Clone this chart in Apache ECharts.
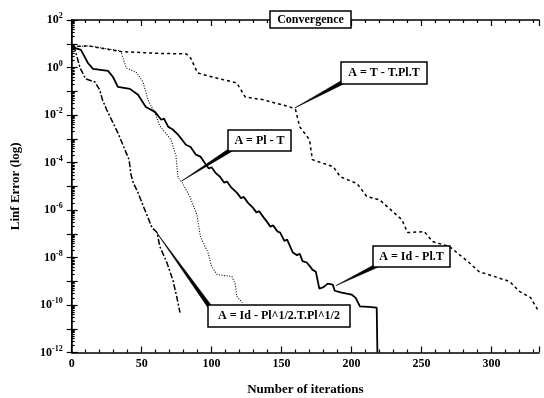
<!DOCTYPE html>
<html><head><meta charset="utf-8">
<script src="https://cdn.jsdelivr.net/npm/echarts@6/dist/echarts.min.js"></script>
<style>html,body{margin:0;padding:0;background:#fff}#c{width:544px;height:398px}</style>
</head><body><div id="c"></div>
<script>
// ---- data (iterations, log10 of Linf error) ----
const titleText = 'Convergence';
const xName = 'Number of iterations';
const yName = 'Linf Error (log)';
const xTicks = [0, 50, 100, 150, 200, 250, 300];
const yTickExps = [-12, -10, -8, -6, -4, -2, 0, 2];

const nameTPT = 'A = T - T.Pl.T';
const iterTPT = [0, 12, 35, 60, 82, 85, 90, 97, 118, 124, 137, 156, 160, 163, 170, 172, 187, 192, 204, 211, 220, 236, 240, 252, 258, 270, 284, 291, 313, 320, 328, 333];
const logTPT  = [0.88, 0.91, 0.67, 0.60, 0.57, 0.40, -0.23, -0.35, -0.65, -1.24, -1.36, -1.66, -1.78, -2.50, -3.04, -3.88, -4.18, -4.60, -4.89, -5.44, -5.57, -6.41, -6.95, -6.91, -7.33, -7.54, -8.21, -8.59, -9.01, -9.43, -9.69, -10.19];

const nameIdPlT = 'A = Id - Pl.T';
const iterIdPlT = [0, 6.6, 11.6, 15.2, 26, 29.5, 33, 41.6, 47.4, 53, 59.5, 64, 66, 69, 72, 76, 79, 81.6, 85, 88.8, 92, 95, 98, 100, 103, 106, 109, 111, 114, 118, 121, 123, 126, 129.5, 132, 134, 137, 139.5, 142, 144, 147, 149, 152, 154, 158, 161, 163, 165, 168, 170, 172, 174.5, 177, 180, 183, 186.6, 188, 193, 200, 203, 206, 212, 218, 218.5];
const logIdPlT  = [0.87, 0.74, 0.19, -0.06, -0.14, -0.40, -0.82, -0.90, -1.15, -1.66, -1.87, -2.2, -2.15, -2.50, -2.6, -2.83, -3.05, -3.25, -3.35, -3.67, -3.75, -4.01, -4.25, -4.2, -4.45, -4.60, -4.85, -4.8, -5.05, -5.27, -5.5, -5.45, -5.7, -5.90, -6.1, -6.05, -6.3, -6.49, -6.7, -6.65, -6.9, -6.95, -7.3, -7.25, -7.79, -7.9, -7.85, -8.15, -8.21, -8.35, -8.51, -8.6, -9.31, -9.25, -9.1, -9.14, -9.4, -9.48, -9.56, -9.7, -10.06, -10.08, -10.11, -12];

const namePlT = 'A = Pl - T';
const iterPlT = [0, 12, 35, 39, 46, 51, 54.5, 60, 63, 71, 74.5, 76, 79, 84.5, 89.5, 92, 97.4, 100, 104, 114.5, 117, 118, 122];
const logPlT  = [0.87, 0.91, 0.70, -0.02, -0.19, -0.61, -1.36, -1.99, -2.46, -3.04, -3.72, -4.64, -4.85, -5.44, -6.20, -7.12, -7.79, -8.38, -8.72, -8.80, -9.14, -9.64, -9.90];

const nameHalf = 'A = Id - Pl^1/2.T.Pl^1/2';
const iterHalf = [0, 2.4, 6, 10, 16.6, 20, 22, 25, 29.5, 33, 38, 41, 42.4, 44, 47.4, 51.6, 57.4, 61, 63, 68, 72.4, 75, 77.4];
const logHalf  = [0.87, 0.74, -0.02, -0.48, -0.61, -0.94, -1.36, -1.78, -2.33, -2.75, -3.46, -3.88, -4.52, -4.85, -5.27, -5.90, -6.74, -6.95, -7.54, -8.21, -8.97, -9.64, -10.32];

// annotation anchor points on the curves (iteration, log10 error)
const anchorIter = [159.5, 78.6, 189, 60.7];
const anchorLog  = [-1.7, -4.78, -9.18, -6.95];
const annoNames  = [nameTPT, namePlT, nameIdPlT, nameHalf];

// ---- chart ----
const FONT = '"Liberation Serif", "DejaVu Serif", serif';
const pairs = (xs, ls) => xs.map((x, i) => [x, Math.pow(10, ls[i])]);
const chart = echarts.init(document.getElementById('c'), null, {renderer: 'canvas'});

const tickStyle = {color: '#000', width: 1.2};
const option = {
  animation: false,
  backgroundColor: '#fff',
  grid: {left: 71.7, right: 5, top: 20, bottom: 45.5, containLabel: false, outerBoundsMode: 'none'},
  xAxis: [{
    type: 'value', min: 0, max: 334, interval: 50, position: 'bottom',
    name: xName, nameLocation: 'middle', nameGap: 31,
    nameTextStyle: {fontFamily: FONT, fontWeight: 'bold', fontSize: 13, color: '#000'},
    axisLine: {show: true, lineStyle: {color: '#000', width: 1.5}},
    axisTick: {show: true, inside: true, length: 6, lineStyle: tickStyle},
    minorTick: {show: true, splitNumber: 5, length: 3, lineStyle: tickStyle},
    splitLine: {show: false},
    axisLabel: {margin: 5, fontFamily: FONT, fontWeight: 'bold', fontSize: 12, color: '#000',
      formatter: v => (xTicks.indexOf(v) >= 0 ? String(v) : '')}
  }, {
    type: 'value', min: 0, max: 334, interval: 50, position: 'top',
    axisLine: {show: true, lineStyle: {color: '#000', width: 1.5}},
    axisTick: {show: true, inside: true, length: 6, lineStyle: tickStyle},
    minorTick: {show: true, splitNumber: 5, length: 3, lineStyle: tickStyle},
    splitLine: {show: false}, axisLabel: {show: false}
  }],
  yAxis: [{
    type: 'log', logBase: 10, min: 1e-12, max: 100, interval: 1, position: 'left',
    name: yName, nameLocation: 'middle', nameGap: 50, nameRotate: 90,
    nameTextStyle: {fontFamily: FONT, fontWeight: 'bold', fontSize: 13, color: '#000'},
    axisLine: {show: true, lineStyle: {color: '#000', width: 1.5}},
    axisTick: {show: true, inside: true, length: 6, lineStyle: tickStyle},
    minorTick: {show: true, splitNumber: 9, length: 3, lineStyle: tickStyle},
    splitLine: {show: false},
    axisLabel: {margin: 9, color: '#000',
      formatter: v => {
        const e = Math.round(Math.log10(v));
        return yTickExps.indexOf(e) >= 0 ? '{b|10}{s|' + e + '}' : '';
      },
      rich: {
        b: {fontFamily: FONT, fontWeight: 'bold', fontSize: 12, color: '#000', lineHeight: 16},
        s: {fontFamily: FONT, fontWeight: 'bold', fontSize: 8, color: '#000', lineHeight: 8, verticalAlign: 'top'}
      }}
  }, {
    type: 'log', logBase: 10, min: 1e-12, max: 100, interval: 1, position: 'right',
    axisLine: {show: true, lineStyle: {color: '#000', width: 1}},
    axisTick: {show: true, inside: true, length: 5, lineStyle: tickStyle},
    splitLine: {show: false}, axisLabel: {show: false}
  }],
  series: [
    {name: nameTPT, type: 'line', data: pairs(iterTPT, logTPT), showSymbol: false, silent: true,
      lineStyle: {color: '#000', width: 1.5, type: [3, 3]}},
    {name: nameIdPlT, type: 'line', data: pairs(iterIdPlT, logIdPlT), showSymbol: false, silent: true,
      lineStyle: {color: '#000', width: 1.8, type: 'solid'}},
    {name: namePlT, type: 'line', data: pairs(iterPlT, logPlT), showSymbol: false, silent: true,
      lineStyle: {color: '#000', width: 1.1, type: [1, 1.6]}},
    {name: nameHalf, type: 'line', data: pairs(iterHalf, logHalf), showSymbol: false, silent: true,
      lineStyle: {color: '#000', width: 1.5, type: [6, 2, 2, 2]}}
  ]
};
chart.setOption(option);

// ---- annotation boxes (layout in pixels), leaders anchored on the curves ----
const boxes = [
  {x: 341, y: 62, w: 86, h: 22, ax: 343, ay: 82},
  {x: 228, y: 130, w: 63, h: 21, ax: 232, ay: 149},
  {x: 373, y: 246, w: 77, h: 21, ax: 378, ay: 265},
  {x: 208, y: 305, w: 142, h: 22, ax: 210, ay: 307}
];
const graphics = [];
boxes.forEach((b, i) => {
  const p = chart.convertToPixel({xAxisIndex: 0, yAxisIndex: 0}, [anchorIter[i], Math.pow(10, anchorLog[i])]);
  const dx = b.ax - p[0], dy = b.ay - p[1];
  const len = Math.sqrt(dx * dx + dy * dy);
  const nx = -dy / len * 2, ny = dx / len * 2;
  graphics.push({type: 'polygon', z: 100, silent: true,
    shape: {points: [[p[0], p[1]], [b.ax + nx, b.ay + ny], [b.ax - nx, b.ay - ny]]},
    style: {fill: '#000', stroke: '#000', lineWidth: 0.6}});
  graphics.push({type: 'rect', z: 101, silent: true,
    shape: {x: b.x, y: b.y, width: b.w, height: b.h},
    style: {fill: '#fff', stroke: '#000', lineWidth: 1.5}});
  graphics.push({type: 'text', z: 102, silent: true,
    style: {x: b.x + b.w / 2, y: b.y + b.h / 2, text: annoNames[i], align: 'center', verticalAlign: 'middle',
      font: 'bold 12px ' + FONT, fill: '#000'}});
});
graphics.push({type: 'rect', z: 101, silent: true,
  shape: {x: 270, y: 11, width: 81, height: 17},
  style: {fill: '#fff', stroke: '#000', lineWidth: 1.5}});
graphics.push({type: 'text', z: 102, silent: true,
  style: {x: 310.5, y: 19.5, text: titleText, align: 'center', verticalAlign: 'middle',
    font: 'bold 12px ' + FONT, fill: '#000'}});
chart.setOption({graphic: graphics});
</script>
</body></html>
